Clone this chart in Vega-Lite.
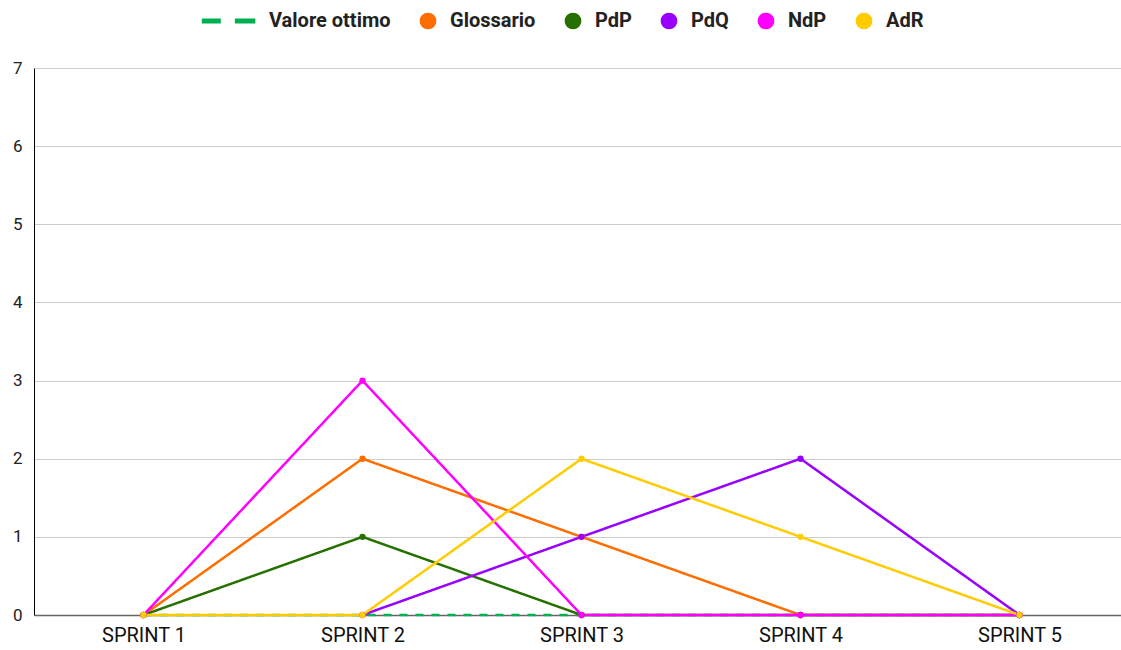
{
  "$schema": "https://vega.github.io/schema/vega-lite/v6.json",
  "width": 1095,
  "height": 547,
  "autosize": {"type": "none"},
  "padding": {"left": 34, "top": 68, "right": 0, "bottom": 35},
  "background": "white",
  "config": {
    "font": "Roboto",
    "view": {"stroke": null},
    "axis": {"labelFont": "Roboto", "labelFontSize": 17, "labelColor": "#222222", "ticks": false, "title": null},
    "legend": {"labelFont": "Roboto", "labelFontSize": 20, "labelFontWeight": "bold", "labelColor": "#222222"}
  },
  "data": {
    "values": [
      {"sprint": "SPRINT 1", "series": "Valore ottimo", "value": 0},
      {"sprint": "SPRINT 2", "series": "Valore ottimo", "value": 0},
      {"sprint": "SPRINT 3", "series": "Valore ottimo", "value": 0},
      {"sprint": "SPRINT 4", "series": "Valore ottimo", "value": 0},
      {"sprint": "SPRINT 5", "series": "Valore ottimo", "value": 0},
      {"sprint": "SPRINT 1", "series": "Glossario", "value": 0},
      {"sprint": "SPRINT 2", "series": "Glossario", "value": 2},
      {"sprint": "SPRINT 3", "series": "Glossario", "value": 1},
      {"sprint": "SPRINT 4", "series": "Glossario", "value": 0},
      {"sprint": "SPRINT 5", "series": "Glossario", "value": 0},
      {"sprint": "SPRINT 1", "series": "PdP", "value": 0},
      {"sprint": "SPRINT 2", "series": "PdP", "value": 1},
      {"sprint": "SPRINT 3", "series": "PdP", "value": 0},
      {"sprint": "SPRINT 4", "series": "PdP", "value": 0},
      {"sprint": "SPRINT 5", "series": "PdP", "value": 0},
      {"sprint": "SPRINT 2", "series": "PdQ", "value": 0},
      {"sprint": "SPRINT 3", "series": "PdQ", "value": 1},
      {"sprint": "SPRINT 4", "series": "PdQ", "value": 2},
      {"sprint": "SPRINT 5", "series": "PdQ", "value": 0},
      {"sprint": "SPRINT 1", "series": "NdP", "value": 0},
      {"sprint": "SPRINT 2", "series": "NdP", "value": 3},
      {"sprint": "SPRINT 3", "series": "NdP", "value": 0},
      {"sprint": "SPRINT 4", "series": "NdP", "value": 0},
      {"sprint": "SPRINT 5", "series": "NdP", "value": 0},
      {"sprint": "SPRINT 1", "series": "AdR", "value": 0},
      {"sprint": "SPRINT 2", "series": "AdR", "value": 0},
      {"sprint": "SPRINT 3", "series": "AdR", "value": 2},
      {"sprint": "SPRINT 4", "series": "AdR", "value": 1},
      {"sprint": "SPRINT 5", "series": "AdR", "value": 0}
    ]
  },
  "encoding": {
    "x": {
      "field": "sprint", "type": "ordinal",
      "scale": {"type": "point", "padding": 0.5},
      "axis": {"labelAngle": 0, "labelPadding": 10, "labelFontSize": 20, "labelColor": "#111111", "domainColor": "#666666", "domainWidth": 1.5, "grid": false}
    },
    "y": {
      "field": "value", "type": "quantitative",
      "scale": {"domain": [0, 7], "nice": false},
      "axis": {"tickCount": 7, "labelPadding": 12, "domainColor": "#000000", "domainWidth": 1, "gridColor": "#cccccc", "gridWidth": 1}
    },
    "color": {
      "field": "series", "type": "nominal",
      "scale": {
        "domain": ["Valore ottimo", "Glossario", "PdP", "PdQ", "NdP", "AdR"],
        "range": ["#00b050", "#ff6d01", "#267000", "#9900ff", "#ff00ff", "#ffcc00"]
      },
      "sort": null,
      "legend": {
        "title": null, "orient": "none", "direction": "horizontal",
        "legendX": 203, "legendY": -57, "padding": 0,
        "symbolSize": 280, "symbolStrokeWidth": 0, "labelOffset": 12, "columnPadding": 27
      }
    }
  },
  "layer": [
    {
      "mark": {"type": "line", "strokeWidth": 2.5},
      "encoding": {
        "strokeDash": {
          "field": "series", "type": "nominal",
          "scale": {"domain": ["Valore ottimo", "Glossario", "PdP", "PdQ", "NdP", "AdR"], "range": [[8, 8], [1, 0], [1, 0], [1, 0], [1, 0], [1, 0]]},
          "legend": null
        }
      }
    },
    {
      "transform": [{"filter": "datum.series !== 'Valore ottimo'"}],
      "mark": {"type": "point", "filled": true, "opacity": 1, "size": 40},
      "encoding": {
        "shape": {
          "field": "series", "type": "nominal",
          "scale": {
            "domain": ["Valore ottimo", "Glossario", "PdP", "PdQ", "NdP", "AdR"],
            "range": ["M-5.4,-0.3H-3.13V0.3H-5.4Z M-1.45,-0.3H1V0.3H-1.45Z", "circle", "circle", "circle", "circle", "circle"]
          },
          "sort": null,
          "legend": {
            "title": null, "orient": "none", "direction": "horizontal",
            "legendX": 203, "legendY": -57, "padding": 0,
            "symbolSize": 280, "symbolStrokeWidth": 0, "labelOffset": 12, "columnPadding": 27
          }
        }
      }
    }
  ]
}
